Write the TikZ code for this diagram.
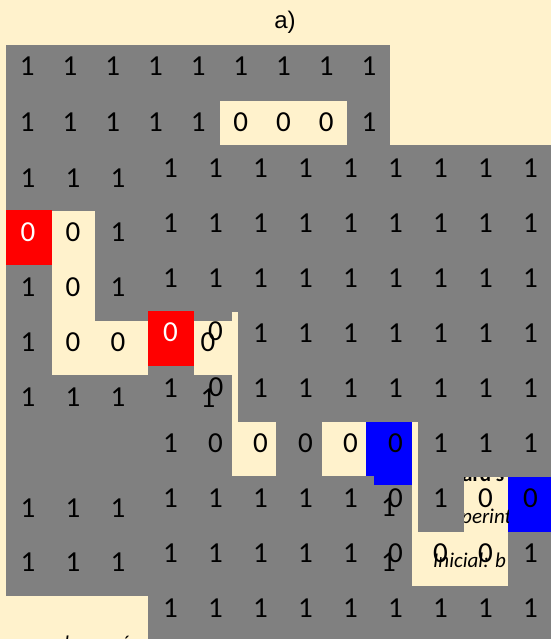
\documentclass[tikz,border=0pt]{standalone}
\usepackage{fontspec}
\setmainfont{Carlito}
\newfontfamily\labfont{Liberation Sans}
\definecolor{creamc}{HTML}{FFF2CC}
\definecolor{grayc}{HTML}{808080}
\definecolor{redc}{HTML}{FF0000}
\definecolor{bluec}{HTML}{0000FF}
\tikzset{
  dig/.style={font=\fontsize{29}{29}\selectfont, inner sep=0pt, text=black},
  digw/.style={dig, text=white},
  note/.style={font=\fontsize{21}{21}\selectfont\itshape, inner sep=0pt, anchor=base west},
  notebold/.style={font=\fontsize{21}{21}\selectfont\bfseries, inner sep=0pt, anchor=base west},
  creamcell/.style={fill=creamc},
  graycell/.style={fill=grayc},
  redcell/.style={fill=redc},
  bluecell/.style={fill=bluec}
}
\begin{document}
\begin{tikzpicture}[x=1pt,y=-1pt]
\useasboundingbox (0,0) rectangle (551,639);
\clip (0,0) rectangle (551,639);
% background
\fill[creamc] (0,0) rectangle (551,639);
% gray tables
\fill[graycell] (6,45) rectangle (390,596);
\fill[graycell] (148,145) rectangle (551,639);
% cells
\fill[creamcell] (220,101) rectangle (347,145);
\fill[redcell] (6,210) rectangle (52,265);
\fill[creamcell] (52,211) rectangle (95,375);
\fill[creamcell] (95,321) rectangle (148,375);
\fill[redcell] (148,311) rectangle (194,366);
\fill[creamcell] (194,321) rectangle (238,375);
\fill[creamcell] (232,312) rectangle (238,476);
\fill[creamcell] (232,422) rectangle (276,476);
\fill[creamcell] (322,422) rectangle (366,476);
\fill[bluecell] (366,422) rectangle (412,476);
\fill[bluecell] (374,440) rectangle (412,485);
\fill[creamcell] (412,422) rectangle (418,532);
\fill[creamcell] (412,532) rectangle (508,586);
\fill[creamcell] (464,477) rectangle (508,532);
\fill[bluecell] (508,477) rectangle (551,532);
% partly hidden notes
\begin{scope}
  \clip (464,477) rectangle (508,532);
  \node[notebold] (n1) at (462,481) {ard s};
  \node[note] (n2) at (461,523) {perint};
\end{scope}
\begin{scope}
  \clip (412,532) rectangle (508,586);
  \node[note] (n3) at (433,567) {Inicial: b};
\end{scope}
\node[note] (n4) at (58,650) {d};
\node[note] (n5) at (119,650) {é};
% title
\node[font=\labfont\fontsize{24}{24}\selectfont, inner sep=0pt] (title) at (285,22.5) {a)};
% table A, top rows
\foreach \v [count=\c from 0] in {1,1,1,1,1,1,1,1,1}
  \node[dig] (a1-\c) at (27.3+42.7*\c,66.5) {\v};
\foreach \v [count=\c from 0] in {1,1,1,1,1,0,0,0,1}
  \node[dig] (a2-\c) at (27.3+42.7*\c,122.5) {\v};
% table A, left part
\foreach \row/\y [count=\r from 0] in {{1,1,1}/178,{x,0,1}/232,{1,0,1}/287,{1,0,0}/342,{1,1,1}/397,{1,1,1}/508,{1,1,1}/562}
  \foreach \v [count=\c from 0] in \row {
    \if x\v\else \node[dig] (l-\r-\c) at (28+45*\c,\y) {\v};\fi
  };
\node[digw] (startA) at (28,232) {0};
% table B
\foreach \row [count=\r from 0] in {
  {1,1,1,1,1,1,1,1,1},
  {1,1,1,1,1,1,1,1,1},
  {1,1,1,1,1,1,1,1,1},
  {x,x,1,1,1,1,1,1,1},
  {1,x,1,1,1,1,1,1,1},
  {1,0,0,0,0,0,1,1,1},
  {1,1,1,1,1,0,1,0,0},
  {1,1,1,1,1,0,0,0,1},
  {1,1,1,1,1,1,1,1,1}}
  \foreach \v [count=\c from 0] in \row {
    \if x\v\else \node[dig] (b-\r-\c) at (170.5+45*\c,168+55*\r) {\v};\fi
  };
\node[digw] (startB) at (170.5,332) {0};
\node[dig] (b-3-1) at (215.5,331) {0};
\node[dig] (c-3-1) at (208,342) {0};
\node[dig] (b-4-1) at (216,387) {0};
\node[dig] (c-4-1) at (208,398) {1};
\node[dig] (c-6-5) at (388.5,507) {1};
\node[dig] (c-7-5) at (388.5,562) {1};
\end{tikzpicture}
\end{document}
